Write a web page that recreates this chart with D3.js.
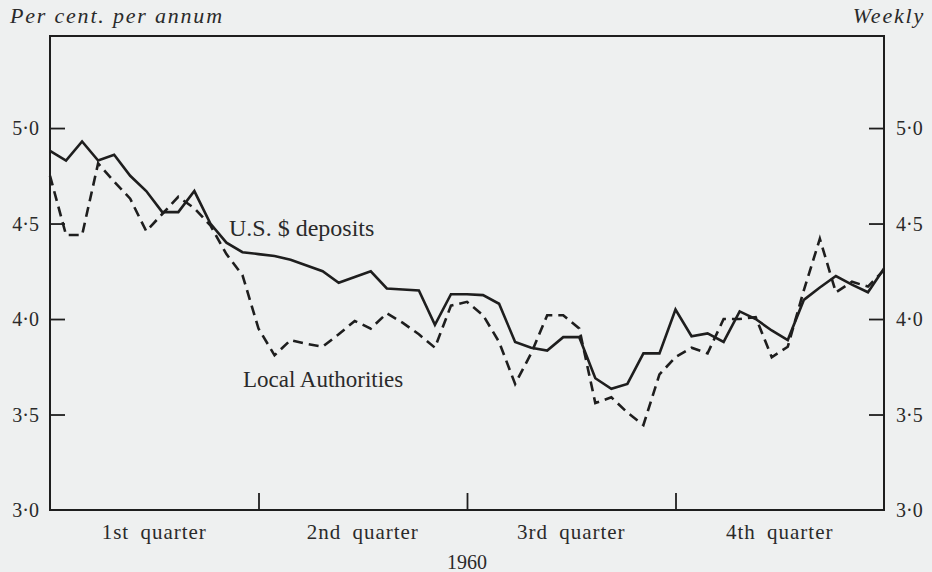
<!DOCTYPE html>
<html>
<head>
<meta charset="utf-8">
<script src="https://cdn.jsdelivr.net/npm/d3@7"></script>
<style>
  body { margin: 0; background: #eef0f0; }
  svg { display: block; }
  text { font-family: "Liberation Serif", "DejaVu Serif", serif; fill: #2a2a2a; }
</style>
</head>
<body>
<script>
// weekly rates 1960, week index 0..52
var weeks = d3.range(0, 53);

var usDeposits = [4.88, 4.83, 4.93, 4.83, 4.86, 4.75, 4.67, 4.56, 4.56, 4.67, 4.50, 4.40, 4.35,
                  4.34, 4.33, 4.31, 4.28, 4.25, 4.19, 4.22, 4.25, 4.16, 4.155, 4.15, 3.97, 4.13,
                  4.13, 4.125, 4.08, 3.88, 3.85, 3.835, 3.905, 3.905, 3.69, 3.635, 3.66, 3.82,
                  3.82, 4.05, 3.91, 3.925, 3.88, 4.04, 4.00, 3.94, 3.89, 4.10, 4.165, 4.225,
                  4.18, 4.14, 4.265];

var localAuth = [4.75, 4.44, 4.44, 4.815, 4.72, 4.63, 4.46, 4.55, 4.64, 4.58, 4.49, 4.34, 4.23,
                 3.95, 3.81, 3.89, 3.87, 3.855, 3.92, 3.99, 3.95, 4.03, 3.98, 3.92, 3.85, 4.07,
                 4.09, 4.02, 3.88, 3.66, 3.82, 4.02, 4.02, 3.95, 3.56, 3.59, 3.51, 3.445,
                 3.71, 3.80, 3.85, 3.82, 4.00, 4.00, 4.01, 3.80, 3.855, 4.15, 4.42, 4.14,
                 4.195, 4.17, 4.256];

var yTicks = [3.0, 3.5, 4.0, 4.5, 5.0];
var quarterEdges = [13, 26, 39];
var quarterLabels = ["1st quarter", "2nd quarter", "3rd quarter", "4th quarter"];
var quarterCentres = [6.5, 19.5, 32.5, 45.5];

var margin = {top: 36, right: 48, bottom: 62, left: 50},
    W = 932, H = 572,
    w = W - margin.left - margin.right,
    h = H - margin.top - margin.bottom;

var svg = d3.select("body").append("svg")
    .attr("width", W)
    .attr("height", H);

var g = svg.append("g")
    .attr("transform", "translate(" + margin.left + "," + margin.top + ")");

var x = d3.scaleLinear().domain([0, 52]).range([0, w]);
var y = d3.scaleLinear().domain([3, 5.482]).range([h, 0]);

function fmt(d) { return d3.format(".1f")(d).replace(".", "\u00B7"); }

function styleTicks(a) {
    a.select(".domain").remove();
    a.selectAll("line").attr("stroke", "#1e1e1e").attr("stroke-width", 1.8);
}

// frame
g.append("rect")
    .attr("width", w).attr("height", h)
    .attr("fill", "none").attr("stroke", "#1e1e1e").attr("stroke-width", 2);

// left axis, ticks inward
g.append("g")
    .call(d3.axisRight(y).tickValues(yTicks.slice(1)).tickSize(15).tickFormat(""))
    .call(styleTicks);

// right axis, ticks inward
g.append("g")
    .attr("transform", "translate(" + w + ",0)")
    .call(d3.axisLeft(y).tickValues(yTicks.slice(1)).tickSize(15).tickFormat(""))
    .call(styleTicks);

// tick labels both sides
g.selectAll(".ylabL").data(yTicks).enter().append("text")
    .attr("x", -11).attr("y", function(d) { return y(d); })
    .attr("dy", "0.35em").attr("text-anchor", "end")
    .attr("font-size", "20px")
    .text(fmt);

g.selectAll(".ylabR").data(yTicks).enter().append("text")
    .attr("x", w + 12).attr("y", function(d) { return y(d); })
    .attr("dy", "0.35em").attr("text-anchor", "start")
    .attr("font-size", "20px")
    .text(fmt);

// quarter ticks
g.append("g")
    .attr("transform", "translate(0," + h + ")")
    .call(d3.axisTop(x).tickValues(quarterEdges).tickSize(17).tickFormat(""))
    .call(styleTicks);

g.selectAll(".qlab").data(quarterLabels).enter().append("text")
    .attr("x", function(d, i) { return x(quarterCentres[i]); })
    .attr("y", h + 29)
    .attr("text-anchor", "middle")
    .attr("font-size", "21px").attr("letter-spacing", "1px").attr("word-spacing", "5px")
    .text(function(d) { return d; });

g.append("text")
    .attr("x", x(26)).attr("y", h + 59)
    .attr("text-anchor", "middle")
    .attr("font-size", "20px")
    .text("1960");

// lines
var line = d3.line()
    .x(function(d, i) { return x(weeks[i]); })
    .y(function(d) { return y(d); });

g.append("path")
    .datum(localAuth)
    .attr("d", line)
    .attr("fill", "none").attr("stroke", "#1e1e1e")
    .attr("stroke-width", 2.6)
    .attr("stroke-dasharray", "10,6");

g.append("path")
    .datum(usDeposits)
    .attr("d", line)
    .attr("fill", "none").attr("stroke", "#1e1e1e")
    .attr("stroke-width", 2.6);

// series labels
g.append("text")
    .attr("x", x(11.16)).attr("y", y(4.435))
    .attr("font-size", "24px")
    .text("U.S. $ deposits");

g.append("text")
    .attr("x", x(12.03)).attr("y", y(3.644))
    .attr("font-size", "23px")
    .text("Local Authorities");

// corner captions
svg.append("text")
    .attr("x", 10).attr("y", 23)
    .attr("font-size", "22px").attr("font-style", "italic").attr("letter-spacing", "1.8px")
    .text("Per cent. per annum");

svg.append("text")
    .attr("x", 925).attr("y", 23)
    .attr("text-anchor", "end")
    .attr("font-size", "22px").attr("font-style", "italic").attr("letter-spacing", "1.8px")
    .text("Weekly");
</script>
</body>
</html>
